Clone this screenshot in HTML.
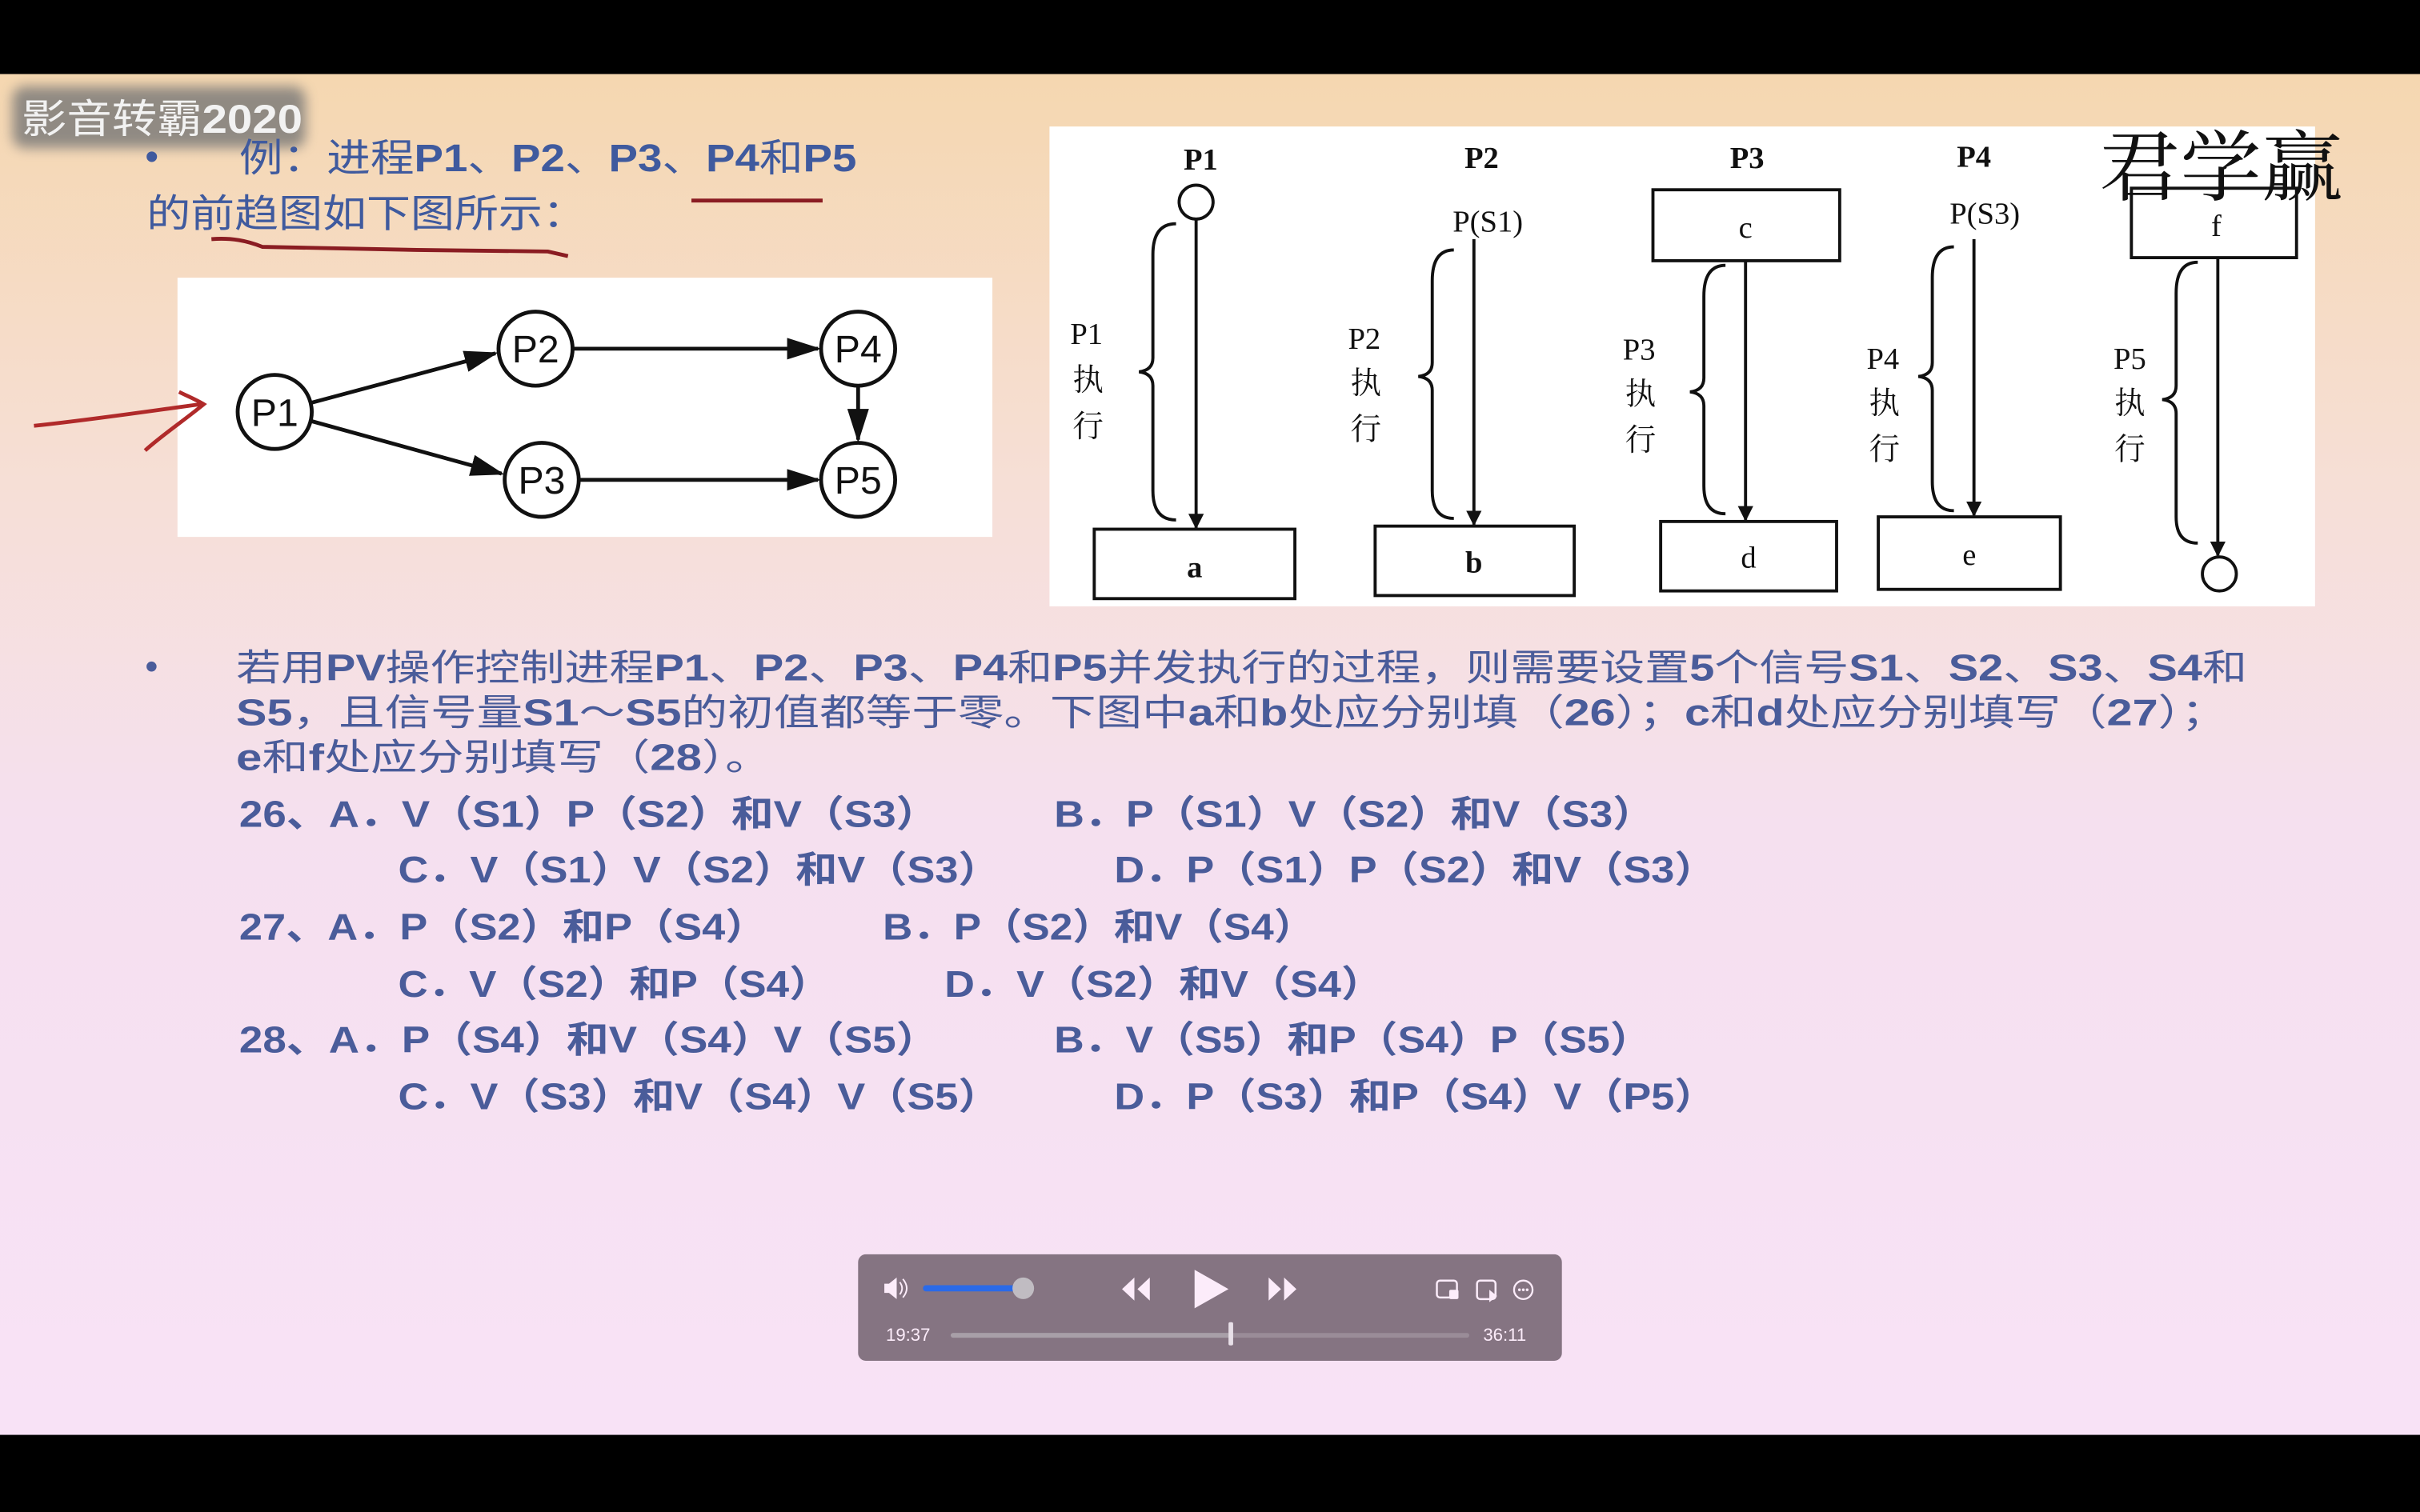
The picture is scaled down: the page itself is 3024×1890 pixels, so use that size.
<!DOCTYPE html>
<html><head><meta charset="utf-8">
<style>
html,body{margin:0;padding:0;background:#000;}
svg{display:block}
</style></head>
<body>
<svg width="3024" height="1890" viewBox="0 0 1568 980" preserveAspectRatio="none" xmlns="http://www.w3.org/2000/svg">
<defs>
<linearGradient id="bg" x1="0" y1="0" x2="0" y2="1">
<stop offset="0" stop-color="#f5d7b0"/>
<stop offset="0.3" stop-color="#f6dfd6"/>
<stop offset="0.55" stop-color="#f5e0ef"/>
<stop offset="1" stop-color="#f8e2f6"/>
</linearGradient>
<marker id="ah" markerWidth="10" markerHeight="10" refX="9" refY="5" orient="auto" markerUnits="userSpaceOnUse">
<path d="M0,0 L10,5 L0,10 z" fill="#111"/>
</marker>
<marker id="ah2" markerWidth="22" markerHeight="14" refX="20" refY="7" orient="auto" markerUnits="userSpaceOnUse">
<path d="M0,0 L22,7 L0,14 z" fill="#111"/>
</marker>
<filter id="blur" x="-20%" y="-50%" width="140%" height="200%"><feGaussianBlur stdDeviation="4"/></filter>
</defs>
<rect x="0" y="0" width="1568" height="980" fill="#000"/>
<rect x="0" y="48" width="1568" height="882" fill="url(#bg)"/>

<!-- watermark -->
<rect x="8" y="56" width="190" height="40" rx="8" fill="#777" opacity="0.8" filter="url(#blur)"/>
<text x="14" y="86" font-family="Liberation Sans, Noto Sans CJK SC, sans-serif" font-size="26" fill="#f2f2f2" textLength="182" lengthAdjust="spacingAndGlyphs">影音转霸<tspan font-weight="bold">2020</tspan></text>

<!-- heading -->
<g font-family="Liberation Sans, Noto Sans CJK SC, sans-serif" fill="#3f5a9e" font-size="25">
<text x="94" y="110">•</text>
<text x="155" y="111" textLength="400" lengthAdjust="spacingAndGlyphs">例：进程<tspan font-weight="bold">P1</tspan>、<tspan font-weight="bold">P2</tspan>、<tspan font-weight="bold">P3</tspan>、<tspan font-weight="bold">P4</tspan>和<tspan font-weight="bold">P5</tspan></text>
<text x="95" y="147" textLength="285" lengthAdjust="spacingAndGlyphs">的前趋图如下图所示：</text>
</g>
<path d="M448,130 L533,130" stroke="#8a1c22" stroke-width="2.5"/>
<path d="M137,155 C150,154 160,156 170,160 L270,162 L355,163 L368,166" stroke="#8a1c22" stroke-width="2.5" fill="none"/>

<!-- left diagram -->
<rect x="115" y="180" width="528" height="168" fill="#fff"/>
<g stroke="#111" stroke-width="2.5" fill="none">
<circle cx="178" cy="267" r="24"/>
<circle cx="347" cy="226" r="24"/>
<circle cx="351" cy="311" r="24"/>
<circle cx="556" cy="226" r="24"/>
<circle cx="556" cy="311" r="24"/>
<line x1="202" y1="261" x2="321" y2="229" marker-end="url(#ah2)"/>
<line x1="202" y1="273" x2="325" y2="307" marker-end="url(#ah2)"/>
<line x1="371" y1="226" x2="530" y2="226" marker-end="url(#ah2)"/>
<line x1="375" y1="311" x2="530" y2="311" marker-end="url(#ah2)"/>
<line x1="556" y1="250" x2="556" y2="285" marker-end="url(#ah2)"/>
</g>
<g font-family="Liberation Sans, sans-serif" font-size="25" fill="#111" text-anchor="middle">
<text x="178" y="276">P1</text>
<text x="347" y="235">P2</text>
<text x="351" y="320">P3</text>
<text x="556" y="235">P4</text>
<text x="556" y="320">P5</text>
</g>
<path d="M22,276 C60,272 100,266 130,262 M116,254 C122,257 127,259 132,262 C120,272 105,282 94,292" stroke="#b02a2a" stroke-width="2.5" fill="none"/>

<!-- right diagram -->
<rect x="680" y="82" width="820" height="311" fill="#fff"/>
<g font-family="Liberation Serif, Noto Serif CJK SC, serif" fill="#111">
<g font-size="20" font-weight="bold" text-anchor="middle">
<text x="778" y="110">P1</text>
<text x="960" y="109">P2</text>
<text x="1132" y="109">P3</text>
<text x="1279" y="108">P4</text>
</g>
<g font-size="20" text-anchor="middle">
<text x="964" y="150">P(S1)</text>
<text x="1286" y="145">P(S3)</text>
</g>
<g stroke="#111" stroke-width="2" fill="none">
<circle cx="775" cy="131" r="11"/>
<line x1="775" y1="142" x2="775" y2="342" marker-end="url(#ah)"/>
<line x1="955" y1="155" x2="955" y2="340" marker-end="url(#ah)"/>
<line x1="1131" y1="169" x2="1131" y2="337" marker-end="url(#ah)"/>
<line x1="1279" y1="155" x2="1279" y2="334" marker-end="url(#ah)"/>
<line x1="1437" y1="167" x2="1437" y2="360" marker-end="url(#ah)"/>
<circle cx="1438" cy="372" r="11"/>
<rect x="709" y="343" width="130" height="45"/>
<rect x="891" y="341" width="129" height="45"/>
<rect x="1071" y="123" width="121" height="46"/>
<rect x="1076" y="338" width="114" height="45"/>
<rect x="1217" y="335" width="118" height="47"/>
<rect x="1381" y="122" width="107" height="45"/>
<path d="M762,145 Q747,145 747,165 L747,232 Q747,240 738,241 Q747,242 747,250 L747,318 Q747,337 762,337"/>
<path d="M942,162 Q928,162 928,182 L928,235 Q928,243 919,244 Q928,245 928,253 L928,318 Q928,336 942,336"/>
<path d="M1118,172 Q1104,172 1104,192 L1104,245 Q1104,253 1095,254 Q1104,255 1104,263 L1104,315 Q1104,333 1118,333"/>
<path d="M1266,160 Q1252,160 1252,180 L1252,235 Q1252,243 1243,244 Q1252,245 1252,253 L1252,312 Q1252,331 1266,331"/>
<path d="M1424,170 Q1410,170 1410,190 L1410,250 Q1410,258 1401,259 Q1410,260 1410,268 L1410,335 Q1410,352 1424,352"/>
</g>
<g font-size="20" text-anchor="middle">
<text x="774" y="374" font-weight="bold">a</text>
<text x="955" y="371" font-weight="bold">b</text>
<text x="1131" y="154">c</text>
<text x="1133" y="368">d</text>
<text x="1276" y="366">e</text>
<text x="1436" y="153">f</text>
</g>
<g font-size="20" text-anchor="middle">
<text x="704" y="223">P1</text><text x="705" y="253">执</text><text x="705" y="283">行</text>
<text x="884" y="226">P2</text><text x="885" y="255">执</text><text x="885" y="285">行</text>
<text x="1062" y="233">P3</text><text x="1063" y="262">执</text><text x="1063" y="292">行</text>
<text x="1220" y="239">P4</text><text x="1221" y="268">执</text><text x="1221" y="298">行</text>
<text x="1380" y="239">P5</text><text x="1380" y="268">执</text><text x="1380" y="298">行</text>
</g>
<text x="1360" y="126" font-size="50" font-family="Liberation Serif, Noto Serif CJK SC, serif" fill="#111" textLength="158" lengthAdjust="spacingAndGlyphs">君学赢</text>
</g>

<!-- paragraph -->
<g font-family="Liberation Sans, Noto Sans CJK SC, sans-serif" fill="#4a5c9a" font-size="24">
<text x="94" y="440">•</text>
<text x="153" y="441" textLength="1303" lengthAdjust="spacingAndGlyphs">若用<tspan font-weight="bold">PV</tspan>操作控制进程<tspan font-weight="bold">P1</tspan>、<tspan font-weight="bold">P2</tspan>、<tspan font-weight="bold">P3</tspan>、<tspan font-weight="bold">P4</tspan>和<tspan font-weight="bold">P5</tspan>并发执行的过程，则需要设置<tspan font-weight="bold">5</tspan>个信号<tspan font-weight="bold">S1</tspan>、<tspan font-weight="bold">S2</tspan>、<tspan font-weight="bold">S3</tspan>、<tspan font-weight="bold">S4</tspan>和</text>
<text x="153" y="470" textLength="1290" lengthAdjust="spacingAndGlyphs"><tspan font-weight="bold">S5</tspan>，且信号量<tspan font-weight="bold">S1</tspan>～<tspan font-weight="bold">S5</tspan>的初值都等于零。下图中<tspan font-weight="bold">a</tspan>和<tspan font-weight="bold">b</tspan>处应分别填（<tspan font-weight="bold">26</tspan>）；<tspan font-weight="bold">c</tspan>和<tspan font-weight="bold">d</tspan>处应分别填写（<tspan font-weight="bold">27</tspan>）；</text>
<text x="153" y="499" textLength="347" lengthAdjust="spacingAndGlyphs"><tspan font-weight="bold">e</tspan>和<tspan font-weight="bold">f</tspan>处应分别填写（<tspan font-weight="bold">28</tspan>）。</text>
<g font-weight="bold">
<text x="155" y="536" textLength="453" lengthAdjust="spacingAndGlyphs">26、A．V（S1）P（S2）和V（S3）</text>
<text x="683" y="536" textLength="389" lengthAdjust="spacingAndGlyphs">B．P（S1）V（S2）和V（S3）</text>
<text x="258" y="572" textLength="390" lengthAdjust="spacingAndGlyphs">C．V（S1）V（S2）和V（S3）</text>
<text x="722" y="572" textLength="390" lengthAdjust="spacingAndGlyphs">D．P（S1）P（S2）和V（S3）</text>
<text x="155" y="609" textLength="342" lengthAdjust="spacingAndGlyphs">27、A．P（S2）和P（S4）</text>
<text x="572" y="609" textLength="280" lengthAdjust="spacingAndGlyphs">B．P（S2）和V（S4）</text>
<text x="258" y="646" textLength="280" lengthAdjust="spacingAndGlyphs">C．V（S2）和P（S4）</text>
<text x="612" y="646" textLength="284" lengthAdjust="spacingAndGlyphs">D．V（S2）和V（S4）</text>
<text x="155" y="682" textLength="453" lengthAdjust="spacingAndGlyphs">28、A．P（S4）和V（S4）V（S5）</text>
<text x="683" y="682" textLength="387" lengthAdjust="spacingAndGlyphs">B．V（S5）和P（S4）P（S5）</text>
<text x="258" y="719" textLength="390" lengthAdjust="spacingAndGlyphs">C．V（S3）和V（S4）V（S5）</text>
<text x="722" y="719" textLength="390" lengthAdjust="spacingAndGlyphs">D．P（S3）和P（S4）V（P5）</text>
</g>
</g>

<!-- player -->
<rect x="556" y="813" width="456" height="69" rx="5" fill="#857482"/>
<g fill="#fcecfa">
<path d="M573,832 h3 l5,-4 v14 l-5,-4 h-3 z"/>
<path d="M583,831 q3,4 0,8 M585,829 q5,6 0,12" stroke="#fcecfa" stroke-width="1" fill="none"/>
<rect x="598" y="833" width="66" height="4" rx="2" fill="#2a6ae8"/>
<circle cx="663" cy="835" r="7" fill="#c0bcc2"/>
<path d="M735,828 v15 l-8,-7.5 z M745,828 v15 l-8,-7.5 z"/>
<path d="M774,823 v25 l22,-12.5 z"/>
<path d="M822,828 v15 l8,-7.5 z M832,828 v15 l8,-7.5 z"/>
<rect x="931" y="830" width="13" height="11" rx="2" fill="none" stroke="#fcecfa" stroke-width="1.3"/>
<rect x="939" y="836" width="6" height="6" rx="1"/>
<rect x="957" y="830" width="12" height="12" rx="2" fill="none" stroke="#fcecfa" stroke-width="1.3"/>
<path d="M965,836 v8 l5,-4 z"/>
<circle cx="987" cy="836" r="6" fill="none" stroke="#fcecfa" stroke-width="1.2"/>
<circle cx="984.5" cy="836" r="0.9"/><circle cx="987" cy="836" r="0.9"/><circle cx="989.5" cy="836" r="0.9"/>
</g>
<rect x="616" y="864" width="336" height="3" rx="1.5" fill="#9a8c98"/>
<rect x="616" y="864" width="181" height="3" rx="1.5" fill="#a89fa8"/>
<rect x="796" y="857" width="3" height="15" rx="1" fill="#e8e0e8"/>
<g font-family="Liberation Sans, sans-serif" font-size="11.5" fill="#fcecfa">
<text x="574" y="869">19:37</text>
<text x="961" y="869">36:11</text>
</g>
</svg>
</body></html>
